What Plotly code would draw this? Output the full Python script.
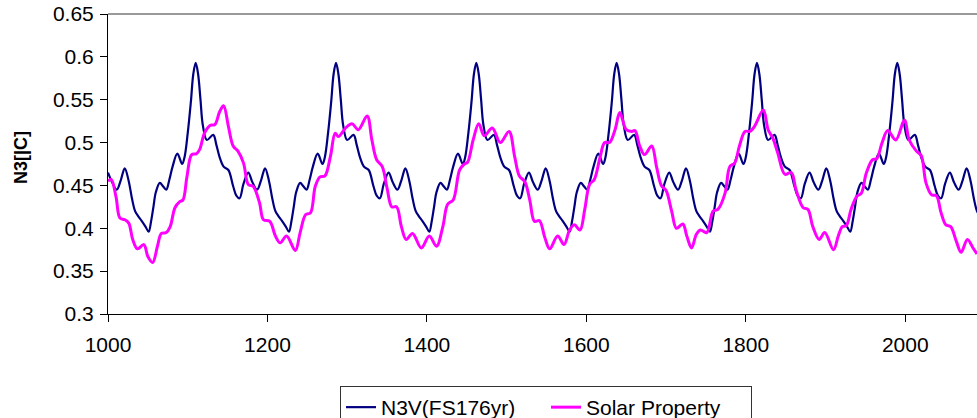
import plotly.graph_objects as go

# N3V(FS176yr) series: years and values
n3v_years = [
    1000, 1005, 1011, 1016, 1021, 1026, 1030, 1034, 1038, 1042, 1047, 1051, 1054, 1057, 1060, 1065, 1069, 1073, 1077, 1081,
    1087, 1093, 1096, 1100, 1104, 1107, 1110, 1113, 1116, 1119, 1124, 1132, 1136, 1140, 1145, 1151, 1157, 1161, 1165, 1170,
    1176, 1181, 1187, 1192, 1197, 1202, 1206, 1210, 1214, 1218, 1223, 1227, 1230, 1233, 1236, 1241, 1245, 1249, 1253, 1257,
    1263, 1269, 1272, 1276, 1280, 1283, 1286, 1289, 1292, 1295, 1300, 1308, 1312, 1316, 1321, 1327, 1333, 1337, 1341, 1346,
    1352, 1357, 1363, 1368, 1373, 1378, 1382, 1386, 1390, 1394, 1399, 1403, 1406, 1409, 1412, 1417, 1421, 1425, 1429, 1433,
    1439, 1445, 1448, 1452, 1456, 1459, 1462, 1465, 1468, 1471, 1476, 1484, 1488, 1492, 1497, 1503, 1509, 1513, 1517, 1522,
    1528, 1533, 1539, 1544, 1549, 1554, 1558, 1562, 1566, 1570, 1575, 1579, 1582, 1585, 1588, 1593, 1597, 1601, 1605, 1609,
    1615, 1621, 1624, 1628, 1632, 1635, 1638, 1641, 1644, 1647, 1652, 1660, 1664, 1668, 1673, 1679, 1685, 1689, 1693, 1698,
    1704, 1709, 1715, 1720, 1725, 1730, 1734, 1738, 1742, 1746, 1751, 1755, 1758, 1761, 1764, 1769, 1773, 1777, 1781, 1785,
    1791, 1797, 1800, 1804, 1808, 1811, 1814, 1817, 1820, 1823, 1828, 1836, 1840, 1844, 1849, 1855, 1861, 1865, 1869, 1874,
    1880, 1885, 1891, 1896, 1901, 1906, 1910, 1914, 1918, 1922, 1927, 1931, 1934, 1937, 1940, 1945, 1949, 1953, 1957, 1961,
    1967, 1973, 1976, 1980, 1984, 1987, 1990, 1993, 1996, 1999, 2004, 2012, 2016, 2020, 2025, 2031, 2037, 2041, 2045, 2050,
    2056, 2061, 2067, 2072, 2077, 2082, 2086, 2090, 2094,
]
n3v_values = [
    0.465, 0.454, 0.445, 0.456, 0.470, 0.455, 0.435, 0.420, 0.414, 0.409, 0.402, 0.396, 0.408, 0.425, 0.442, 0.453, 0.449, 0.445, 0.457, 0.472,
    0.487, 0.475, 0.483, 0.511, 0.548, 0.580, 0.593, 0.580, 0.550, 0.520, 0.503, 0.509, 0.497, 0.483, 0.472, 0.468, 0.449, 0.438, 0.435, 0.452,
    0.465, 0.454, 0.445, 0.456, 0.470, 0.455, 0.435, 0.420, 0.414, 0.409, 0.402, 0.396, 0.408, 0.425, 0.442, 0.453, 0.449, 0.445, 0.457, 0.472,
    0.487, 0.475, 0.483, 0.511, 0.548, 0.580, 0.593, 0.580, 0.550, 0.520, 0.503, 0.509, 0.497, 0.483, 0.472, 0.468, 0.449, 0.438, 0.435, 0.452,
    0.465, 0.454, 0.445, 0.456, 0.470, 0.455, 0.435, 0.420, 0.414, 0.409, 0.402, 0.396, 0.408, 0.425, 0.442, 0.453, 0.449, 0.445, 0.457, 0.472,
    0.487, 0.475, 0.483, 0.511, 0.548, 0.580, 0.593, 0.580, 0.550, 0.520, 0.503, 0.509, 0.497, 0.483, 0.472, 0.468, 0.449, 0.438, 0.435, 0.452,
    0.465, 0.454, 0.445, 0.456, 0.470, 0.455, 0.435, 0.420, 0.414, 0.409, 0.402, 0.396, 0.408, 0.425, 0.442, 0.453, 0.449, 0.445, 0.457, 0.472,
    0.487, 0.475, 0.483, 0.511, 0.548, 0.580, 0.593, 0.580, 0.550, 0.520, 0.503, 0.509, 0.497, 0.483, 0.472, 0.468, 0.449, 0.438, 0.435, 0.452,
    0.465, 0.454, 0.445, 0.456, 0.470, 0.455, 0.435, 0.420, 0.414, 0.409, 0.402, 0.396, 0.408, 0.425, 0.442, 0.453, 0.449, 0.445, 0.457, 0.472,
    0.487, 0.475, 0.483, 0.511, 0.548, 0.580, 0.593, 0.580, 0.550, 0.520, 0.503, 0.509, 0.497, 0.483, 0.472, 0.468, 0.449, 0.438, 0.435, 0.452,
    0.465, 0.454, 0.445, 0.456, 0.470, 0.455, 0.435, 0.420, 0.414, 0.409, 0.402, 0.396, 0.408, 0.425, 0.442, 0.453, 0.449, 0.445, 0.457, 0.472,
    0.487, 0.475, 0.483, 0.511, 0.548, 0.580, 0.593, 0.580, 0.550, 0.520, 0.503, 0.509, 0.497, 0.483, 0.472, 0.468, 0.449, 0.438, 0.435, 0.452,
    0.465, 0.454, 0.445, 0.456, 0.470, 0.455, 0.435, 0.420, 0.414,
]

# Solar Property series: years and values
solar_years = [
    1000, 1004, 1010, 1015, 1021, 1026, 1031, 1037, 1045, 1050, 1056, 1062, 1067, 1073, 1078, 1084, 1090, 1094, 1099, 1105,
    1111, 1115, 1121, 1128, 1134, 1140, 1145, 1151, 1157, 1163, 1170, 1176, 1182, 1190, 1195, 1203, 1210, 1216, 1224, 1235,
    1241, 1248, 1254, 1260, 1266, 1272, 1279, 1285, 1289, 1298, 1306, 1314, 1325, 1331, 1337, 1344, 1350, 1356, 1362, 1368,
    1374, 1382, 1393, 1403, 1412, 1420, 1426, 1433, 1441, 1447, 1451, 1458, 1465, 1472, 1482, 1492, 1503, 1510, 1516, 1523,
    1529, 1535, 1541, 1548, 1554, 1564, 1572, 1579, 1585, 1592, 1598, 1604, 1610, 1617, 1623, 1629, 1636, 1642, 1650, 1657,
    1661, 1667, 1673, 1682, 1688, 1694, 1700, 1707, 1713, 1721, 1726, 1732, 1738, 1743, 1751, 1759, 1765, 1774, 1780, 1786,
    1792, 1799, 1805, 1811, 1822, 1828, 1834, 1840, 1849, 1857, 1863, 1872, 1878, 1884, 1892, 1899, 1910, 1916, 1921, 1926,
    1932, 1939, 1945, 1951, 1959, 1964, 1971, 1978, 1988, 1999, 2005, 2014, 2020, 2026, 2033, 2039, 2045, 2051, 2057, 2064,
    2070, 2078, 2085, 2090,
]
solar_values = [
    0.455, 0.457, 0.437, 0.412, 0.410, 0.406, 0.387, 0.376, 0.381, 0.367, 0.360, 0.379, 0.394, 0.395, 0.402, 0.424, 0.431, 0.433, 0.460, 0.486,
    0.487, 0.492, 0.511, 0.520, 0.521, 0.536, 0.543, 0.519, 0.496, 0.490, 0.476, 0.451, 0.449, 0.430, 0.410, 0.408, 0.391, 0.383, 0.391, 0.374,
    0.395, 0.416, 0.418, 0.449, 0.460, 0.461, 0.484, 0.511, 0.507, 0.517, 0.522, 0.515, 0.531, 0.503, 0.480, 0.472, 0.447, 0.425, 0.425, 0.402,
    0.387, 0.394, 0.377, 0.391, 0.379, 0.402, 0.428, 0.433, 0.468, 0.475, 0.477, 0.503, 0.522, 0.508, 0.517, 0.500, 0.513, 0.484, 0.461, 0.454,
    0.433, 0.408, 0.409, 0.389, 0.376, 0.391, 0.381, 0.398, 0.404, 0.398, 0.422, 0.451, 0.457, 0.482, 0.500, 0.500, 0.515, 0.535, 0.515, 0.513,
    0.514, 0.496, 0.486, 0.496, 0.472, 0.450, 0.444, 0.420, 0.400, 0.405, 0.391, 0.377, 0.393, 0.398, 0.395, 0.420, 0.422, 0.441, 0.472, 0.476,
    0.496, 0.513, 0.513, 0.519, 0.538, 0.515, 0.505, 0.488, 0.463, 0.465, 0.445, 0.424, 0.422, 0.402, 0.387, 0.395, 0.375, 0.391, 0.402, 0.403,
    0.422, 0.437, 0.441, 0.464, 0.480, 0.481, 0.500, 0.514, 0.503, 0.526, 0.503, 0.490, 0.485, 0.453, 0.439, 0.438, 0.418, 0.404, 0.402, 0.385,
    0.372, 0.387, 0.377, 0.370,
]

y_ticks = [0.3, 0.35, 0.4, 0.45, 0.5, 0.55, 0.6, 0.65]
x_ticks = [1000, 1200, 1400, 1600, 1800, 2000]

FONT = "Liberation Sans, Arial, sans-serif"
SIZE = 21

fig = go.Figure()
fig.add_trace(go.Scatter(
    x=n3v_years, y=n3v_values, mode="lines", name="N3V(FS176yr)",
    line=dict(color="#000080", width=2.2, shape="spline", smoothing=1.0),
))
fig.add_trace(go.Scatter(
    x=solar_years, y=solar_values, mode="lines", name="Solar Property",
    line=dict(color="#FF00FF", width=3, shape="spline", smoothing=1.0),
))

fig.update_layout(
    width=977, height=418,
    margin=dict(l=108, r=0, t=14, b=104, pad=0, autoexpand=False),
    paper_bgcolor="white", plot_bgcolor="white",
    font=dict(family=FONT, size=SIZE, color="black"),
    showlegend=True,
    legend=dict(
        orientation="h", x=0.267, xanchor="left", y=-0.24, yanchor="top",
        bordercolor="#333333", borderwidth=1, bgcolor="white",
        font=dict(family=FONT, size=SIZE, color="black"),
        itemwidth=30, entrywidth=160, entrywidthmode="pixels",
    ),
    xaxis=dict(
        range=[1000, 2090], tickvals=x_ticks, ticks="outside", ticklen=7,
        tickcolor="black", showline=True, linecolor="black", linewidth=1,
        showgrid=False, zeroline=False, tickfont=dict(size=SIZE),
        ticklabelstandoff=5,
    ),
    yaxis=dict(
        range=[0.3, 0.65], tickvals=y_ticks, ticks="outside", ticklen=7,
        tickcolor="black", showline=True, linecolor="black", linewidth=1,
        showgrid=False, zeroline=False, tickfont=dict(size=SIZE),
        ticklabelstandoff=2,
    ),
    shapes=[dict(type="line", xref="paper", yref="paper", x0=0, x1=1, y0=1, y1=1,
                 line=dict(color="#999999", width=2))],
    annotations=[dict(
        text="<b>N3[|C]</b>", textangle=-90, xref="paper", yref="paper",
        x=-0.1, y=0.52, xanchor="center", yanchor="middle", showarrow=False,
        font=dict(family=FONT, size=18, color="black"),
    )],
)

fig.write_html("out.html")
